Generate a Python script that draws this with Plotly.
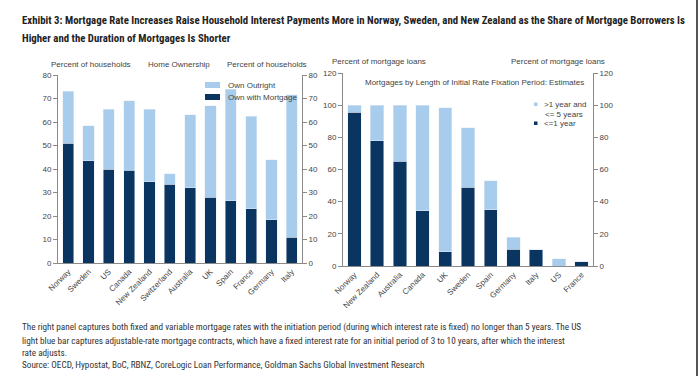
import plotly.graph_objects as go

# ---- Left panel data: Home ownership (percent of households)
own_countries = ["Norway", "Sweden", "US", "Canada", "New Zealand", "Switzerland",
                 "Australia", "UK", "Spain", "France", "Germany", "Italy"]
own_with_mortgage = [51, 43.5, 40, 39.5, 34.5, 33.5, 32, 28, 26.5, 23, 18.5, 11]
own_outright = [22, 15, 25.5, 29.5, 31, 4.5, 31, 39, 47.5, 39.5, 25.5, 60.5]

# ---- Right panel data: Mortgages by length of initial rate fixation period
fix_countries = ["Norway", "New Zealand", "Australia", "Canada", "UK", "Sweden",
                 "Spain", "Germany", "Italy", "US", "France"]
fix_le_1yr = [95.5, 78, 65, 34.5, 9, 49, 35, 10.5, 10, 0, 2.5]
fix_1_to_5yr = [4.5, 22, 35, 65.5, 89.5, 37, 18, 7.5, 0, 4.5, 0]

left_ticks = [0, 10, 20, 30, 40, 50, 60, 70, 80]
right_ticks = [0, 20, 40, 60, 80, 100, 120]

DARK = "#0b3561"
LIGHT = "#a8cdec"
AX = "#8a8a8a"
TXT = "#444444"
FONT = "Liberation Sans, Arial, sans-serif"
NARROW = "Liberation Sans Narrow, Roboto Condensed, DejaVu Sans Condensed, Liberation Sans, sans-serif"

W, H = 700, 376
def px(x):
    return x / W
def py(y):
    return 1 - y / H

fig = go.Figure()

fig.add_bar(x=own_countries, y=own_with_mortgage, marker_color=DARK, xaxis="x", yaxis="y",
            width=0.55, name="Own with Mortgage", showlegend=False)
fig.add_bar(x=own_countries, y=own_outright, marker_color=LIGHT, xaxis="x", yaxis="y",
            width=0.55, name="Own Outright", showlegend=False)
fig.add_bar(x=fix_countries, y=fix_le_1yr, marker_color=DARK, xaxis="x2", yaxis="y3",
            width=0.59, name="<=1 year", showlegend=False)
fig.add_bar(x=fix_countries, y=fix_1_to_5yr, marker_color=LIGHT, xaxis="x2", yaxis="y3",
            width=0.59, name=">1 year and <= 5 years", showlegend=False)
# invisible traces so the secondary axes render
fig.add_scatter(x=[own_countries[0]], y=[0], xaxis="x", yaxis="y2", mode="markers",
                marker_opacity=0, showlegend=False, hoverinfo="skip")
fig.add_scatter(x=[fix_countries[0]], y=[0], xaxis="x2", yaxis="y4", mode="markers",
                marker_opacity=0, showlegend=False, hoverinfo="skip")

yax_common = dict(showgrid=False, zeroline=False, showline=True, linecolor=AX, linewidth=1,
                  ticks="outside", ticklen=4, tickcolor=AX, automargin=False,
                  tickfont=dict(family=FONT, size=8, color=TXT))
xax_common = dict(showgrid=False, zeroline=False, showline=True, linecolor=AX, linewidth=1,
                  ticks="", tickangle=-45, automargin=False,
                  tickfont=dict(family=FONT, size=8, color=TXT))

L_dom = [px(58), px(302)]
L_y = [py(263), py(75)]
R_dom = [px(343), px(593)]
R_y = [py(266), py(73)]

fig.update_layout(
    width=W, height=H, margin=dict(l=0, r=0, t=0, b=0, autoexpand=False),
    paper_bgcolor="white", plot_bgcolor="white",
    barmode="stack", showlegend=False,
    xaxis=dict(domain=L_dom, anchor="y", range=[-0.5, 11.5], **xax_common),
    yaxis=dict(domain=L_y, anchor="x", range=[0, 80], tickvals=left_ticks, side="left", **yax_common),
    yaxis2=dict(overlaying="y", anchor="x", side="right", range=[0, 80], tickvals=left_ticks, **yax_common),
    xaxis2=dict(domain=R_dom, anchor="y3", range=[-0.5, 10.5], **xax_common),
    yaxis3=dict(domain=R_y, anchor="x2", range=[0, 120], tickvals=right_ticks, side="left", **yax_common),
    yaxis4=dict(overlaying="y3", anchor="x2", side="right", range=[0, 120], tickvals=right_ticks, **yax_common),
)

ann = []
def text(x, y, s, size=8, xanchor="left", family=FONT, color=TXT, bold=False):
    ann.append(dict(x=px(x), y=py(y), xref="paper", yref="paper", text=(f"<b>{s}</b>" if bold else s),
                    showarrow=False, xanchor=xanchor, yanchor="middle",
                    font=dict(family=family, size=size, color=color)))

# Title
TS = 10.8
text(20, 20, "Exhibit 3: Mortgage Rate Increases Raise Household Interest Payments More in Norway, Sweden, and New Zealand as the Share of Mortgage Borrowers Is",
     size=TS, family=NARROW, color="#222222", bold=True)
text(20, 38, "Higher and the Duration of Mortgages Is Shorter", size=TS, family=NARROW, color="#222222", bold=True)

# Panel headers
text(49, 64, "Percent of households")
text(179, 64, "Home Ownership", xanchor="center")
text(309, 64, "Percent of households", xanchor="right")
text(330, 61, "Percent of mortgage loans")
text(607, 61, "Percent of mortgage loans", xanchor="right")
text(474, 83, "Mortgages by Length of Initial Rate Fixation Period: Estimates", xanchor="center")

# Left legend
text(226, 85, "Own Outright")
text(226, 97, "Own with Mortgage")
# Right legend
text(542, 104, "&gt;1 year and")
text(543, 114, "&lt;= 5 years")
text(542, 123, "&lt;=1 year")

# Notes
NOTE = 9.2
text(20, 327, "The right panel captures both fixed and variable mortgage rates with the initiation period (during which interest rate is fixed) no longer than 5 years. The US",
     size=NOTE, family=NARROW, color="#333333")
text(20, 340, "light blue bar captures adjustable-rate mortgage contracts, which have a fixed interest rate for an initial period of 3 to 10 years, after which the interest",
     size=NOTE, family=NARROW, color="#333333")
text(20, 352, "rate adjusts.", size=NOTE, family=NARROW, color="#333333")
text(20, 364, "Source: OECD, Hypostat, BoC, RBNZ, CoreLogic Loan Performance, Goldman Sachs Global Investment Research",
     size=NOTE, family=NARROW, color="#333333")

fig.update_layout(annotations=ann)

shapes = [
    dict(type="rect", xref="paper", yref="paper", x0=px(205), x1=px(220), y0=py(88), y1=py(82),
         fillcolor=LIGHT, line_width=0),
    dict(type="rect", xref="paper", yref="paper", x0=px(205), x1=px(220), y0=py(100), y1=py(94),
         fillcolor=DARK, line_width=0),
    dict(type="rect", xref="paper", yref="paper", x0=px(534), x1=px(537.5), y0=py(106), y1=py(102.5),
         fillcolor=LIGHT, line_width=0),
    dict(type="rect", xref="paper", yref="paper", x0=px(534), x1=px(537.5), y0=py(125), y1=py(121.5),
         fillcolor=DARK, line_width=0),
    dict(type="line", xref="paper", yref="paper", x0=px(697), x1=px(697), y0=0, y1=1,
         line=dict(color="#555555", width=2)),
]
fig.update_layout(shapes=shapes)

fig.write_html("out.html", config={"displayModeBar": False},
               post_script="document.body.style.margin='0';document.body.style.overflow='hidden';")
